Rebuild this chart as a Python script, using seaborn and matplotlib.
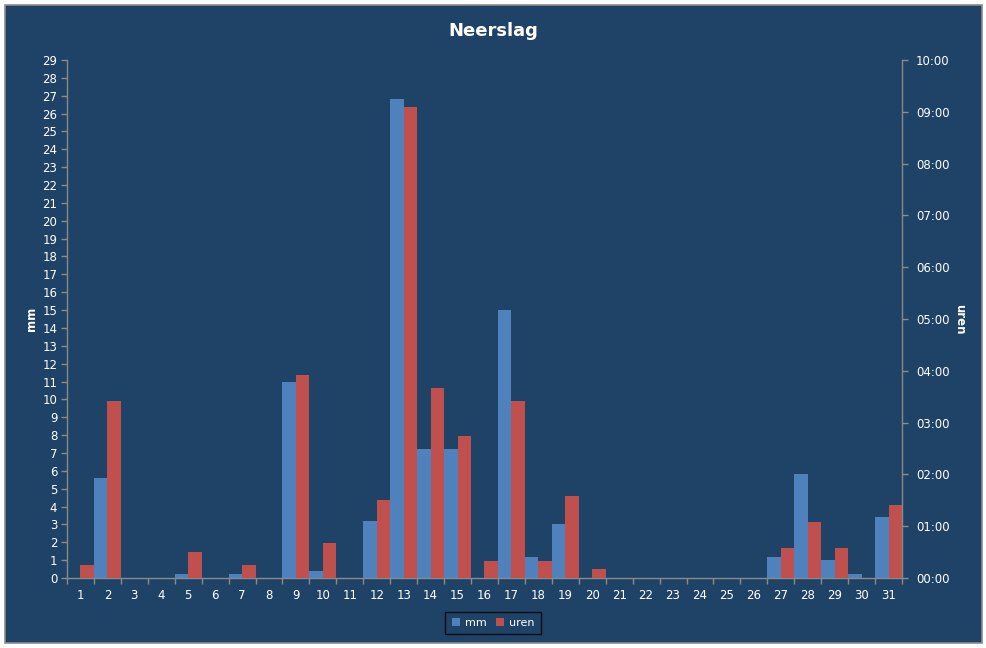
import pandas as pd
import matplotlib
matplotlib.use("Agg")
import matplotlib.pyplot as plt
import seaborn as sns
from matplotlib.patches import Patch, Rectangle
from matplotlib.ticker import FixedLocator, FuncFormatter

# neerslag per dag: mm en duur in minuten
dagen = [str(d) for d in range(1, 32)]
mm = [0, 5.6, 0, 0, 0.2, 0, 0.2, 0, 11.0, 0.4,
      0, 3.2, 26.8, 7.2, 7.2, 0, 15.0, 1.2, 3.0, 0,
      0, 0, 0, 0, 0, 0, 1.2, 5.8, 1.0, 0.2, 3.4]
uren_min = [15, 205, 0, 0, 30, 0, 15, 0, 235, 40,
            0, 90, 546, 220, 165, 20, 205, 20, 95, 10,
            0, 0, 0, 0, 0, 0, 35, 65, 35, 0, 85]

BG = "#1F4366"
BLUE = "#4F81BD"
RED = "#C0504D"
AXC = "#8A8A8A"
TXT = "white"

df = pd.DataFrame({
    "dag": dagen * 2,
    "reeks": ["mm"] * 31 + ["uren"] * 31,
    "mm": mm + [0] * 31,
    "uren": [0] * 31 + [m / 60 for m in uren_min],
})

sns.set_style("white")
plt.rcParams["font.family"] = ["DejaVu Sans"]

fig = plt.figure(figsize=(9.87, 6.48), dpi=100)
fig.patch.set_facecolor("white")
fig.patches.append(Rectangle((5 / 987, 5 / 648), 977 / 987, 638 / 648,
                             transform=fig.transFigure, facecolor=BG,
                             edgecolor="#8C8C8C", linewidth=1.2, zorder=-5))

ax = fig.add_axes([67 / 987, 70 / 648, 835 / 987, 518 / 648])
ax.set_facecolor("none")
ax2 = ax.twinx()

pal = {"mm": BLUE, "uren": RED}
sns.barplot(data=df, x="dag", y="mm", hue="reeks", hue_order=["mm", "uren"],
            palette=pal, width=1.0, linewidth=0, legend=False, ax=ax,
            errorbar=None, saturation=1)
sns.barplot(data=df, x="dag", y="uren", hue="reeks", hue_order=["mm", "uren"],
            palette=pal, width=1.0, linewidth=0, legend=False, ax=ax2,
            errorbar=None, saturation=1)

ax.set_xlim(-0.5, 30.5)
ax.set_ylim(0, 29)
ax2.set_ylim(0, 10)
ax.set_yticks(range(0, 30))
ax2.set_yticks(range(0, 11))
ax2.yaxis.set_major_formatter(FuncFormatter(lambda v, p: f"{int(round(v)):02d}:00"))

# x: labels in het midden, streepjes op de grenzen
ax.set_xticks(range(31))
ax.set_xticklabels(dagen)
ax.xaxis.set_minor_locator(FixedLocator([i - 0.5 for i in range(32)]))
ax.tick_params(axis="x", which="major", bottom=True, length=0, pad=8,
               colors=TXT, labelsize=8.5)
ax.tick_params(axis="x", which="minor", bottom=True, length=4, width=1,
               color=AXC, direction="out")
ax.tick_params(axis="y", left=True, length=4, width=1, color=AXC, colors=TXT,
               labelsize=8.5, pad=3)
ax2.tick_params(axis="y", right=True, length=4, width=1, color=AXC, colors=TXT,
                labelsize=8.5, pad=6)
for a in (ax, ax2):
    for s in a.spines.values():
        s.set_visible(False)
    a.set_xlabel("")
ax.spines["left"].set_visible(True)
ax.spines["bottom"].set_visible(True)
ax2.spines["right"].set_visible(True)
for s in (ax.spines["left"], ax.spines["bottom"], ax2.spines["right"]):
    s.set_color(AXC)
    s.set_linewidth(1)

ax.set_ylabel("mm", color=TXT, fontsize=8.5, fontweight="bold", labelpad=3)
ax2.set_ylabel("uren", color=TXT, fontsize=8.5, fontweight="bold", rotation=-90,
               labelpad=12)

fig.text(493 / 987, 1 - 31 / 648, "Neerslag", color=TXT, fontsize=13,
         fontweight="bold", ha="center", va="center")

handles = [Patch(facecolor=BLUE, edgecolor="none", label="mm"),
           Patch(facecolor=RED, edgecolor="none", label="uren")]
leg = fig.legend(handles=handles, loc="center", ncol=2,
                 bbox_to_anchor=(493 / 987, 1 - 623 / 648), frameon=True,
                 fontsize=8, handlelength=0.8, handleheight=0.8,
                 handletextpad=0.4, columnspacing=0.8, borderpad=0.55)
leg.get_frame().set_facecolor("none")
leg.get_frame().set_edgecolor("black")
leg.get_frame().set_linewidth(1)
leg.get_frame().set_boxstyle("square", pad=0)
for t in leg.get_texts():
    t.set_color(TXT)

fig.savefig("out.png", dpi=100)
